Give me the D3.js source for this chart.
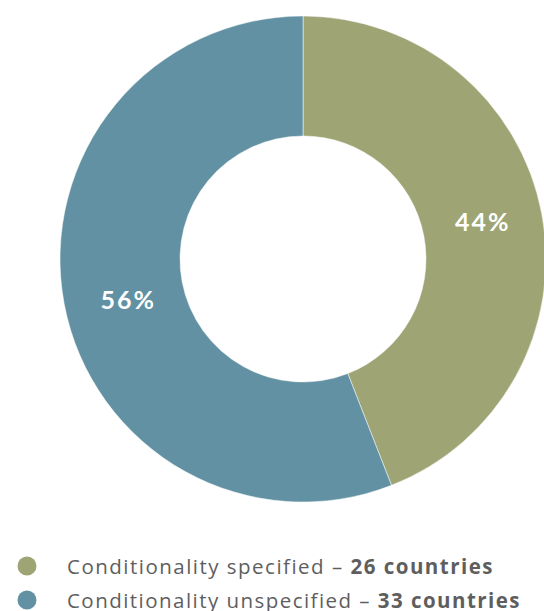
<!DOCTYPE html>
<html><head><meta charset="utf-8">
<script src="https://cdn.jsdelivr.net/npm/d3@7"></script>
<style>body{margin:0;background:#fff}svg{display:block}</style>
</head><body>
<svg id="c" width="544" height="611"></svg>
<script>
const categories = ["Conditionality specified", "Conditionality unspecified"];
const counts = [26, 33];
const percentLabels = ["44%", "56%"];
const colors = ["#9ea474", "#6191a2"];

const svg = d3.select("#c");
const cx = 303, cy = 259, rO = 243, rI = 123;
const g = svg.append("g").attr("transform", `translate(${cx},${cy})`);
const pie = d3.pie().sort(null).value(d => d)(counts);
const arc = d3.arc().innerRadius(rI).outerRadius(rO);
g.selectAll("path").data(pie).join("path")
  .attr("d", arc).attr("fill", (d,i) => colors[i]).attr("stroke", "#fff").attr("stroke-width", 0.5);
const labelArc = d3.arc().innerRadius(183).outerRadius(183);
g.selectAll("text").data(pie).join("text")
  .attr("transform", (d,i) => { const c = labelArc.centroid(d); return `translate(${c[0]+(i?5:0)},${c[1]+(i?6:-4)})`; })
  .attr("text-anchor", "middle").attr("dominant-baseline", "central")
  .attr("fill", "#fff").attr("font-family", "Lato, sans-serif").attr("font-weight", 700)
  .attr("font-size", 25).attr("letter-spacing", 2)
  .text((d,i) => percentLabels[i]);

const leg = svg.append("g");
const targetW = [427, 454];
categories.forEach((c, i) => {
  const y = 566 + i * 34;
  leg.append("circle").attr("cx", 27).attr("cy", y).attr("r", 9.5).attr("fill", colors[i]);
  const t = leg.append("text").attr("x", 67).attr("y", y).attr("dominant-baseline", "central")
    .attr("font-family", "'Open Sans', sans-serif").attr("font-size", 20.5).attr("fill", "#5e5e5e");
  t.append("tspan").attr("font-weight", 400).text(c + " \u2013 ");
  t.append("tspan").attr("font-weight", 700).text(counts[i] + " countries");
  const w = t.node().getComputedTextLength();
  const n = (c + " \u2013 " + counts[i] + " countries").length;
  t.attr("letter-spacing", (targetW[i] - w) / n);
});
</script>
</body></html>
